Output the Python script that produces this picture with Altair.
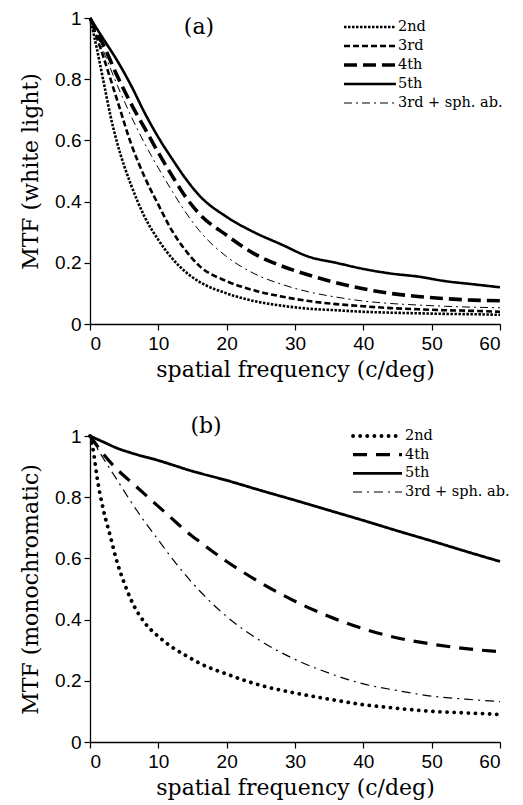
import altair as alt
import pandas as pd

# ---------------- data ----------------
series_a = ["2nd", "3rd", "4th", "5th", "3rd + sph. ab."]
series_b = ["2nd", "4th", "5th", "3rd + sph. ab."]

grid_a = [0, 2, 4, 6, 8, 10, 12, 14, 16, 20, 24, 28, 32, 36, 40, 44, 48, 52, 56, 60]
a_2nd_x = [0, 1, 2, 3, 4, 6, 8, 10, 12, 14, 16, 20, 24, 28, 32, 36, 40, 44, 48, 52, 56, 60]
a_2nd = [1, 0.9, 0.79, 0.68, 0.59, 0.455, 0.35, 0.275, 0.215, 0.17, 0.138, 0.10, 0.075,
         0.06, 0.05, 0.045, 0.04, 0.037, 0.035, 0.033, 0.032, 0.03]
a_3rd = [1, 0.87, 0.73, 0.59, 0.48, 0.39, 0.305, 0.24, 0.19, 0.14, 0.11, 0.09, 0.075,
         0.065, 0.058, 0.052, 0.048, 0.045, 0.043, 0.04]
a_4th = [1, 0.91, 0.81, 0.72, 0.64, 0.56, 0.485, 0.415, 0.36, 0.29, 0.23, 0.19, 0.16,
         0.135, 0.115, 0.10, 0.09, 0.083, 0.078, 0.076]
a_5th = [1, 0.93, 0.86, 0.78, 0.69, 0.61, 0.54, 0.475, 0.42, 0.35, 0.30, 0.26, 0.22,
         0.20, 0.18, 0.165, 0.155, 0.14, 0.13, 0.12]
a_sph = [1, 0.89, 0.78, 0.68, 0.59, 0.51, 0.435, 0.365, 0.305, 0.22, 0.165, 0.13, 0.105,
         0.088, 0.075, 0.067, 0.062, 0.058, 0.055, 0.053]

b_2nd_x = [0, 0.5, 1, 2, 3, 4, 5, 6, 8, 10, 12, 14, 16, 20, 25, 30, 35, 40, 45, 50, 55, 60]
b_2nd = [1, 0.95, 0.87, 0.755, 0.67, 0.585, 0.52, 0.465, 0.39, 0.345, 0.31, 0.283,
         0.258, 0.222, 0.185, 0.16, 0.14, 0.122, 0.11, 0.10, 0.095, 0.09]
grid_b = [0, 2, 4, 6, 8, 10, 12, 14, 16, 20, 25, 30, 35, 40, 45, 50, 55, 60]
b_4th = [1, 0.94, 0.89, 0.85, 0.81, 0.77, 0.73, 0.69, 0.655, 0.59, 0.52, 0.46, 0.41,
         0.37, 0.34, 0.32, 0.305, 0.295]
b_sph = [1, 0.925, 0.855, 0.785, 0.72, 0.66, 0.60, 0.545, 0.495, 0.41, 0.33, 0.27, 0.225,
         0.19, 0.168, 0.15, 0.14, 0.132]
b_5th_x = [0, 2, 4, 6, 10, 15, 20, 25, 30, 35, 40, 45, 50, 55, 60]
b_5th = [1, 0.98, 0.96, 0.945, 0.92, 0.885, 0.855, 0.822, 0.79, 0.757, 0.724, 0.69,
         0.657, 0.623, 0.59]

x_ticks = list(range(0, 61, 5))
y_ticks = [i / 10 for i in range(11)]


def long_df(parts):
    rows = []
    for name, xs, ys in parts:
        for x, y in zip(xs, ys):
            rows.append({"freq": x, "mtf": y, "series": name})
    return pd.DataFrame(rows)


df_a = long_df([("2nd", a_2nd_x, a_2nd), ("3rd", grid_a, a_3rd), ("4th", grid_a, a_4th),
                ("5th", grid_a, a_5th), ("3rd + sph. ab.", grid_a, a_sph)])
df_b = long_df([("2nd", b_2nd_x, b_2nd), ("4th", grid_b, b_4th), ("5th", b_5th_x, b_5th),
                ("3rd + sph. ab.", grid_b, b_sph)])

# ---------------- styling ----------------
SERIF = "DejaVu Serif"
SANS = "Liberation Sans"

# (dash, width, cap) per series
style_a = [([2.5, 1.5], 2.6, "butt"), ([6, 3], 2.6, "butt"), ([13, 6], 3.6, "butt"),
           ([1, 0], 2.6, "butt"), ([8, 4, 2, 4], 1.0, "butt")]
style_b = [([0.1, 7], 3.8, "round"), ([14, 9], 3.2, "butt"), ([1, 0], 2.8, "butt"),
           ([9, 5, 2, 5], 1.2, "butt")]


def x_axis():
    return alt.Axis(
        title="spatial frequency (c/deg)", values=x_ticks,
        labelExpr="datum.value % 10 == 0 ? datum.label : ''",
        tickSize={"condition": {"test": "datum.value % 10 == 0", "value": 6}, "value": 4},
        grid=False, domainColor="black", tickColor="black", domainWidth=1.3, tickWidth=1.2,
        labelFont=SANS, labelFontSize=19, labelColor="black", labelPadding=4,
        titleFont=SERIF, titleFontSize=22, titleFontWeight="normal", titleColor="black",
        titlePadding=6,
    )


def y_axis(title):
    return alt.Axis(
        title=title, values=y_ticks,
        labelExpr="round(datum.value*10) % 2 == 0 ? toString(round(datum.value*10)/10) : ''",
        tickSize={"condition": {"test": "round(datum.value*10) % 2 == 0", "value": 6}, "value": 4},
        grid=False, domainColor="black", tickColor="black", domainWidth=1.3, tickWidth=1.2,
        labelFont=SANS, labelFontSize=19, labelColor="black", labelPadding=3,
        titleFont=SERIF, titleFontSize=22, titleFontWeight="normal", titleColor="black",
        titlePadding=12,
    )


def panel(df, names, styles, ytitle, label, label_pos, leg_y, leg_x, leg_font):
    leg_df = pd.DataFrame({"series": names})
    leg_scale = alt.Scale(type="point", domain=names, range=leg_y, padding=0)
    layers = []
    for i, (name, (dash, w, cap)) in enumerate(zip(names, styles)):
        enc_x = alt.X("freq:Q", scale=alt.Scale(domain=[0, 60], nice=False), axis=x_axis())
        enc_y = alt.Y("mtf:Q", scale=alt.Scale(domain=[0, 1], nice=False),
                      axis=y_axis(ytitle) if i == 0 else None)
        line = alt.Chart(df).transform_filter(
            alt.datum.series == name
        ).mark_line(
            color="black", strokeDash=dash, strokeWidth=w, strokeCap=cap, interpolate="monotone"
        ).encode(x=enc_x if i == 0 else alt.X("freq:Q"), y=enc_y if i == 0 else alt.Y("mtf:Q"))
        layers.append(line)
    main = alt.layer(*layers)
    leg_layers = []
    for name, (dash, w, cap) in zip(names, styles):
        rule = alt.Chart(leg_df).transform_filter(alt.datum.series == name).mark_rule(
            color="black", strokeDash=dash, strokeWidth=w, strokeCap=cap
        ).encode(
            y=alt.Y("series:N", scale=leg_scale, axis=None),
            x=alt.value(leg_x[0]), x2=alt.value(leg_x[1]),
        )
        leg_layers.append(rule)
    texts = alt.Chart(leg_df).mark_text(
        align="left", baseline="middle", font=SERIF, fontSize=leg_font, color="black"
    ).encode(
        y=alt.Y("series:N", scale=leg_scale, axis=None),
        x=alt.value(leg_x[2]),
        text="series:N",
    )
    legend = alt.layer(*leg_layers, texts)
    lab = alt.Chart(pd.DataFrame({"t": [label]})).mark_text(
        font=SERIF, fontSize=22, color="black", align="center", baseline="middle"
    ).encode(x=alt.value(label_pos[0]), y=alt.value(label_pos[1]), text="t:N")
    return alt.layer(main, legend, lab).resolve_scale(y="independent").properties(
        width=410, height=306
    )


pa = panel(df_a, series_a, style_a, "MTF (white light)", "(a)",
           (109, 9), [9, 85], (254, 306, 308), 14.5)
pb = panel(df_b, series_b, style_b, "MTF (monochromatic)", "(b)",
           (116, -10), [0, 56], (263, 312, 315), 14.5)

chart = alt.vconcat(pa, pb, spacing=35).resolve_scale(y="independent").properties(
    padding={"left": 11, "top": 1, "right": 5, "bottom": 5}
).configure_view(strokeWidth=0)

chart.save("out.html", embed_options={"renderer": "svg", "actions": False})
